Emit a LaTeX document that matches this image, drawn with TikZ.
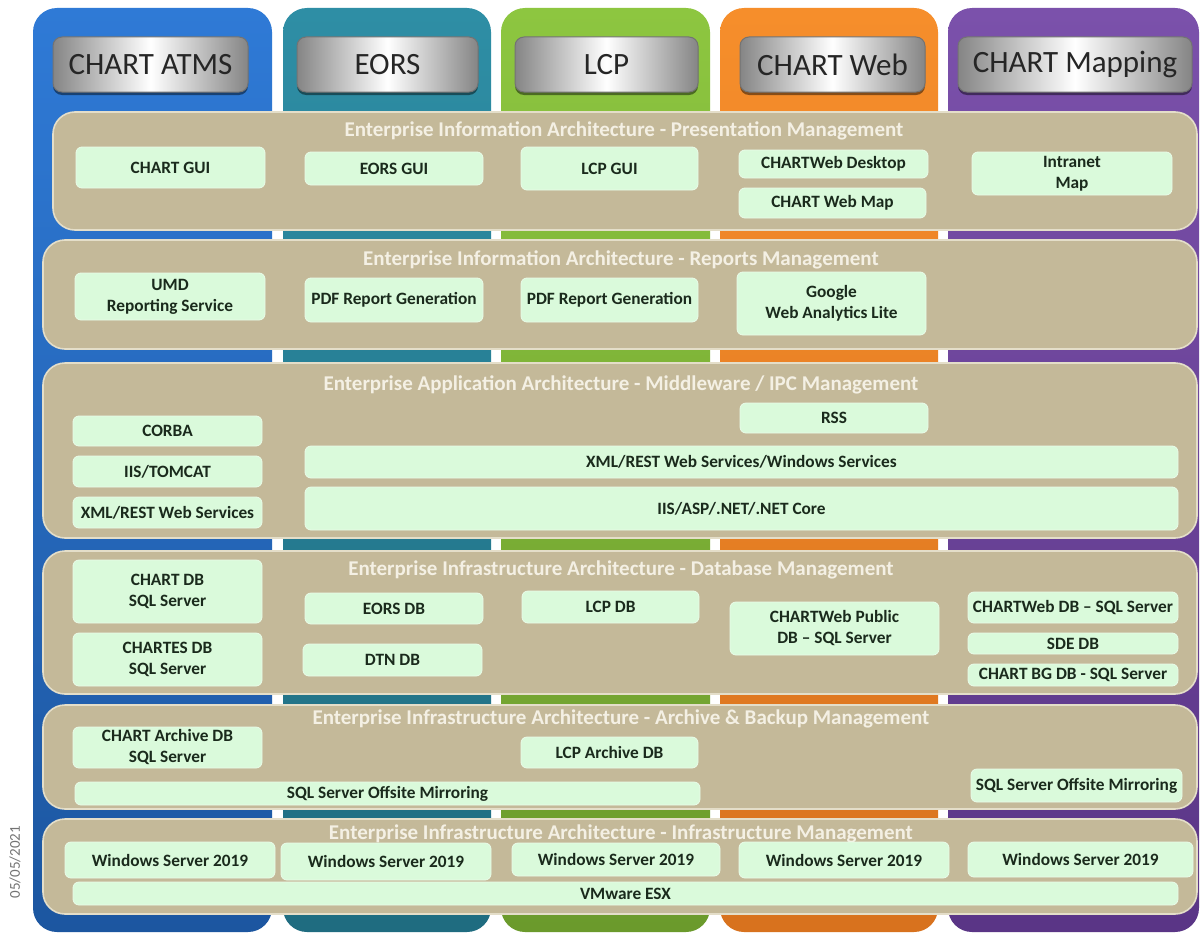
\documentclass[tikz,border=0pt]{standalone}
\usepackage{fontspec}
\setmainfont{Carlito}
\usetikzlibrary{shadows}
\definecolor{cblueT}{HTML}{2F7AD6}
\definecolor{cblueB}{HTML}{1C56A0}
\definecolor{ctealT}{HTML}{2E8EA5}
\definecolor{ctealB}{HTML}{1F6C80}
\definecolor{cgreenT}{HTML}{8DC640}
\definecolor{cgreenB}{HTML}{6B9A2C}
\definecolor{corangeT}{HTML}{F68E2B}
\definecolor{corangeB}{HTML}{D8721E}
\definecolor{cpurpleT}{HTML}{7B51AB}
\definecolor{cpurpleB}{HTML}{5A3586}
\definecolor{bandfill}{HTML}{C4B999}
\definecolor{bandedge}{HTML}{E4DEC9}
\definecolor{boxfill}{HTML}{DAFADB}
\definecolor{boxedge}{HTML}{E9FCE9}
\definecolor{boxtext}{HTML}{1A2A1C}
\definecolor{titletext}{HTML}{F4F0E4}
\definecolor{hdrgray}{HTML}{858585}
\tikzset{
  colshape/.style={rounded corners=24pt},
  band/.style={rectangle, rounded corners=22pt, fill=bandfill, draw=bandedge, line width=1.6pt, inner sep=0pt, outer sep=0pt},
  bandtitle/.style={font=\bfseries\fontsize{21}{23}\selectfont, text=titletext, inner sep=0pt},
  gbox/.style={rectangle, rounded corners=6pt, fill=boxfill, draw=boxedge, line width=0.8pt, inner sep=0pt, outer sep=0pt, align=center, text=boxtext, font=\bfseries\fontsize{17.3}{21}\selectfont},
  hdr/.style={rectangle, rounded corners=9pt, left color=hdrgray, right color=hdrgray, middle color=white, draw=black!55, line width=1pt, inner sep=0pt, minimum height=55pt, font=\fontsize{31}{33}\selectfont, text=black!85, drop shadow={shadow xshift=0pt, shadow yshift=-3pt, opacity=0.45, fill=black}}
}
\newcommand\mkbx[6]{\node[gbox,minimum width={#4-#2},minimum height={#5-#3}] (#1) at ({(#2+#4)/2},{(#3+#5)/2}) {#6};}
\newcommand\mkband[5]{\node[band,minimum width={#4-#2},minimum height={#5-#3}] (#1) at ({(#2+#4)/2},{(#3+#5)/2}) {};}
\newcommand\mkhdr[5]{\node[hdr,minimum width={#4-#3}] (#1) at ({(#3+#4)/2},64.5) {#5};}
\begin{document}
\begin{tikzpicture}[x=1pt,y=-1pt]
\useasboundingbox (0,0) rectangle (1201,934);
\fill[white] (0,0) rectangle (1201,934);
% columns
\shade[colshape, top color=cblueT, bottom color=cblueB] (33,8) rectangle (272,932);
\shade[colshape, top color=ctealT, bottom color=ctealB] (283,8) rectangle (491,932);
\shade[colshape, top color=cgreenT, bottom color=cgreenB] (501,8) rectangle (710,932);
\shade[colshape, top color=corangeT, bottom color=corangeB] (720,8) rectangle (938,932);
\shade[colshape, top color=cpurpleT, bottom color=cpurpleB] (948,8) rectangle (1199,932);
% headers
\mkhdr{hA}{}{53}{248}{CHART ATMS}
\mkhdr{hB}{}{297}{478}{EORS}
\mkhdr{hC}{}{515}{698}{LCP}
\mkhdr{hD}{}{740}{925}{CHART Web}
\mkhdr{hE}{}{958}{1192}{CHART Mapping}
% bands
\mkband{bA}{53}{112}{1197}{230}
\mkband{bB}{43}{240}{1197}{349}
\mkband{bC}{43}{363}{1197}{538}
\mkband{bD}{43}{551}{1197}{694}
\mkband{bE}{43}{705}{1197}{809}
\mkband{bF}{43}{819}{1197}{914}
\node[bandtitle] (tA) at (624,131) {Enterprise Information Architecture - Presentation Management};
\node[bandtitle] (tB) at (621,260) {Enterprise Information Architecture - Reports Management};
\node[bandtitle] (tC) at (621,385) {Enterprise Application Architecture - Middleware / IPC Management};
\node[bandtitle] (tD) at (621,570) {Enterprise Infrastructure Architecture - Database Management};
\node[bandtitle] (tE) at (621,719) {Enterprise Infrastructure Architecture - Archive \& Backup Management};
\node[bandtitle] (tF) at (621,834) {Enterprise Infrastructure Architecture  - Infrastructure Management};
% row 1
\mkbx{gui1}{76}{147}{265}{188}{CHART GUI}
\mkbx{gui2}{305}{152}{483}{185}{EORS GUI}
\mkbx{gui3}{521}{147}{698}{190}{LCP GUI}
\mkbx{cwd}{739}{150}{928}{178}{CHARTWeb Desktop}
\mkbx{cwm}{739}{188}{926}{218}{CHART Web Map}
\mkbx{imap}{972}{152}{1172}{195}{Intranet\\Map}
% row 2
\mkbx{umd}{75}{273}{265}{320}{UMD\\Reporting Service}
\mkbx{pdf1}{305}{278}{483}{322}{PDF Report Generation}
\mkbx{pdf2}{521}{278}{698}{322}{PDF Report Generation}
\mkbx{goo}{737}{272}{926}{335}{Google\\Web Analytics Lite}
% row 3
\mkbx{rss}{740}{403}{928}{433}{RSS}
\mkbx{corba}{73}{416}{262}{446}{CORBA}
\mkbx{iis}{73}{456}{262}{487}{IIS/TOMCAT}
\mkbx{xml}{73}{497}{262}{528}{XML/REST Web Services}
\mkbx{xmlw}{305}{446}{1178}{478}{XML/REST Web Services/Windows Services}
\mkbx{asp}{305}{487}{1178}{530}{IIS/ASP/.NET/.NET Core}
% row 4
\mkbx{cdb}{73}{560}{262}{623}{CHART DB\\SQL Server}
\mkbx{cesdb}{73}{633}{262}{686}{CHARTES DB\\SQL Server}
\mkbx{eorsdb}{305}{593}{483}{624}{EORS DB}
\mkbx{dtn}{303}{644}{482}{676}{DTN DB}
\mkbx{lcpdb}{522}{591}{699}{623}{LCP DB}
\mkbx{cwp}{730}{602}{939}{655}{CHARTWeb Public\\DB – SQL Server}
\mkbx{cwdb}{968}{592}{1178}{623}{CHARTWeb DB – SQL Server}
\mkbx{sde}{968}{633}{1178}{654}{SDE DB}
\mkbx{bg}{968}{664}{1178}{686}{CHART BG DB - SQL Server}
% row 5
\mkbx{arch}{73}{727}{262}{768}{CHART Archive DB\\SQL Server}
\mkbx{lcpa}{521}{737}{698}{768}{LCP Archive DB}
\mkbx{mir1}{75}{782}{700}{805}{SQL Server Offsite Mirroring}
\mkbx{mir2}{971}{769}{1182}{802}{SQL Server Offsite Mirroring}
% row 6
\mkbx{w1}{65}{842}{275}{878}{Windows Server 2019}
\mkbx{w2}{281}{843}{491}{880}{Windows Server 2019}
\mkbx{w3}{512}{843}{720}{876}{Windows Server 2019}
\mkbx{w4}{739}{842}{949}{878}{Windows Server 2019}
\mkbx{w5}{968}{842}{1193}{877}{Windows Server 2019}
\mkbx{vm}{73}{882}{1178}{905}{VMware ESX}
% date
\node[rotate=90, font=\fontsize{15}{16}\selectfont, text=black!55, inner sep=0pt] (date) at (15,862) {05/05/2021};
\end{tikzpicture}
\end{document}
